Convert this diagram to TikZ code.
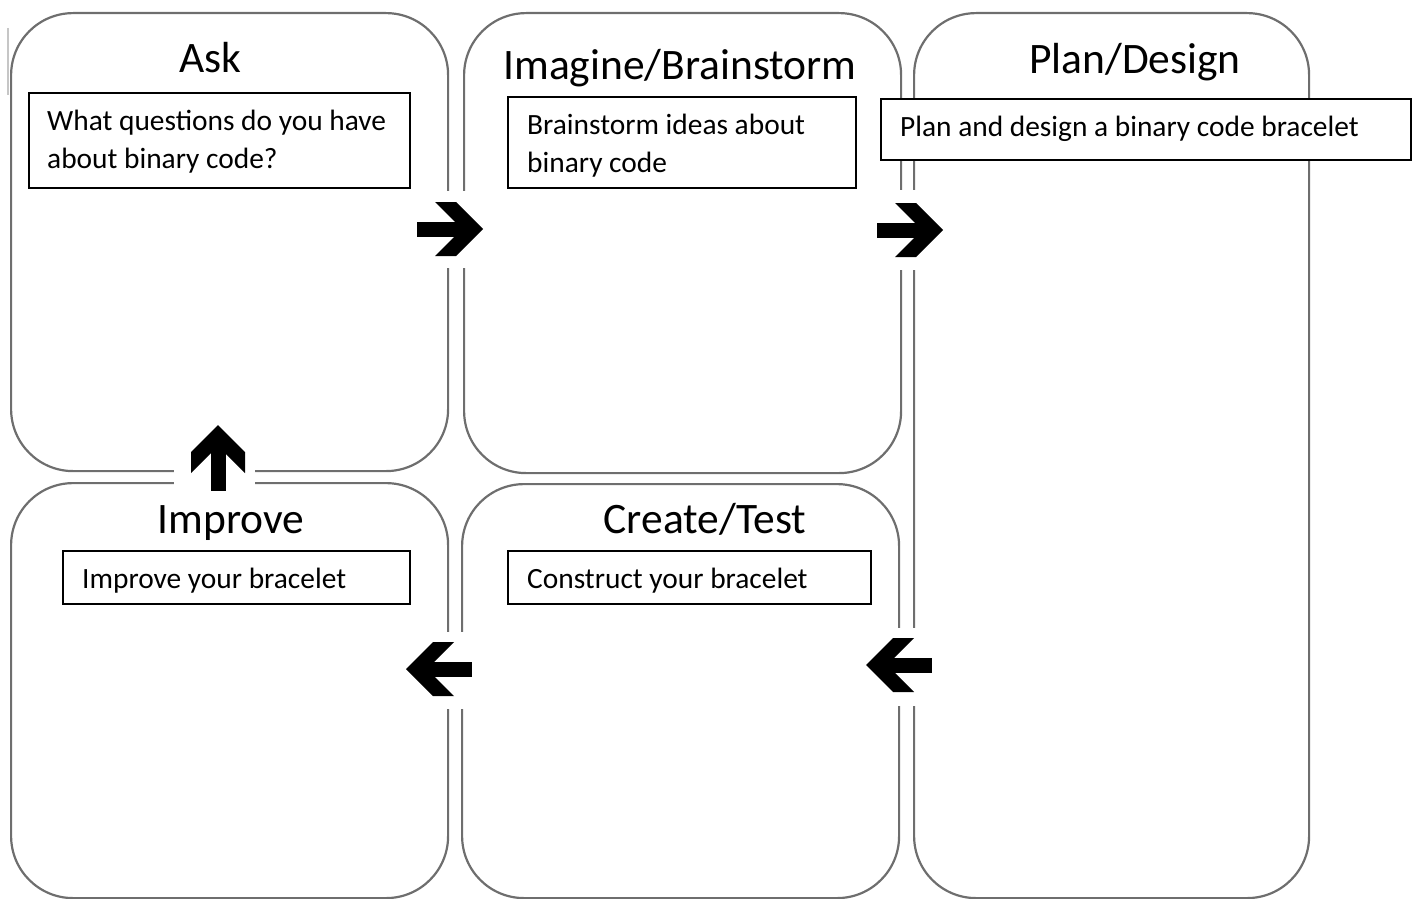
\documentclass[tikz,border=0pt]{standalone}
\usepackage{fontspec}
\setmainfont{Carlito}
\definecolor{bordergray}{HTML}{6E6E6E}
\begin{document}
\begin{tikzpicture}[x=1pt,y=-1pt,
  phase/.style={draw=bordergray, line width=2.2pt, rounded corners=62pt, anchor=north west, inner sep=0pt},
  textbox/.style={draw=black, line width=1.8pt, fill=white, anchor=north west, inner sep=0pt},
  title/.style={font=\fontsize{43.5}{50}\selectfont, anchor=base, inner sep=0pt},
  body/.style={font=\fontsize{29.4}{35}\selectfont, anchor=base west, inner sep=0pt},
  gap/.style={fill=white, draw=none},
  blockarrow/.pic={
    \fill[black] (0,-7.5) rectangle (50,7.5);
    \fill[black] (18,-27) -- (39,-27) -- (66,0) -- (39,27) -- (18,27) -- (45,0) -- cycle;
  }]
\useasboundingbox (0,0) rectangle (1416,899);

% phase boxes
\node[phase, minimum width=437pt, minimum height=458pt] (ask) at (10,12) {};
\node[phase, minimum width=437pt, minimum height=460pt] (imagine) at (463,12) {};
\node[phase, minimum width=395pt, minimum height=885pt] (plan) at (913,12) {};
\node[phase, minimum width=437pt, minimum height=415pt] (improve) at (10,482) {};
\node[phase, minimum width=437pt, minimum height=414pt] (create) at (461,483) {};

% faint line
\draw[gray!45, line width=1.2pt] (8,28) -- (8,95);

% titles
\node[title] (tAsk) at (210,73) {Ask};
\node[title] (tImagine) at (680,79) {Imagine/Brainstorm};
\node[title] (tPlan) at (1135,74) {Plan/Design};
\node[title] (tImprove) at (231,533) {Improve};
\node[title] (tCreate) at (705,533) {Create/Test};

% text boxes
\node[textbox, minimum width=381pt, minimum height=95pt] (bAsk) at (28,92) {};
\node[textbox, minimum width=348pt, minimum height=91pt] (bImagine) at (507,96) {};
\node[textbox, minimum width=530pt, minimum height=61pt] (bPlan) at (880,98) {};
\node[textbox, minimum width=347pt, minimum height=53pt] (bImprove) at (62,550) {};
\node[textbox, minimum width=363pt, minimum height=53pt] (bCreate) at (507,550) {};

\node[body] (xAsk1) at (47,130) {What questions do you have};
\node[body] (xAsk2) at (47,168) {about binary code?};
\node[body] (xIm1) at (527,134) {Brainstorm ideas about};
\node[body] (xIm2) at (527,172) {binary code};
\node[body] (xPlan) at (900,136) {Plan and design a binary code bracelet};
\node[body] (xImp) at (82,588) {Improve your bracelet};
\node[body] (xCre) at (527,588) {Construct your bracelet};

% gaps in borders behind arrows
\fill[gap] (438,191) rectangle (472,268);
\fill[gap] (890,190) rectangle (922,270);
\fill[gap] (174,462) rectangle (255,490);
\fill[gap] (438,632) rectangle (470,709);
\fill[gap] (888,628) rectangle (920,706);

% arrows
\pic at (417,229) {blockarrow};
\pic at (877,230) {blockarrow};
\pic[rotate=90] at (218,491) {blockarrow};
\pic[rotate=180] at (472,669) {blockarrow};
\pic[rotate=180] at (932,665) {blockarrow};
\end{tikzpicture}
\end{document}
